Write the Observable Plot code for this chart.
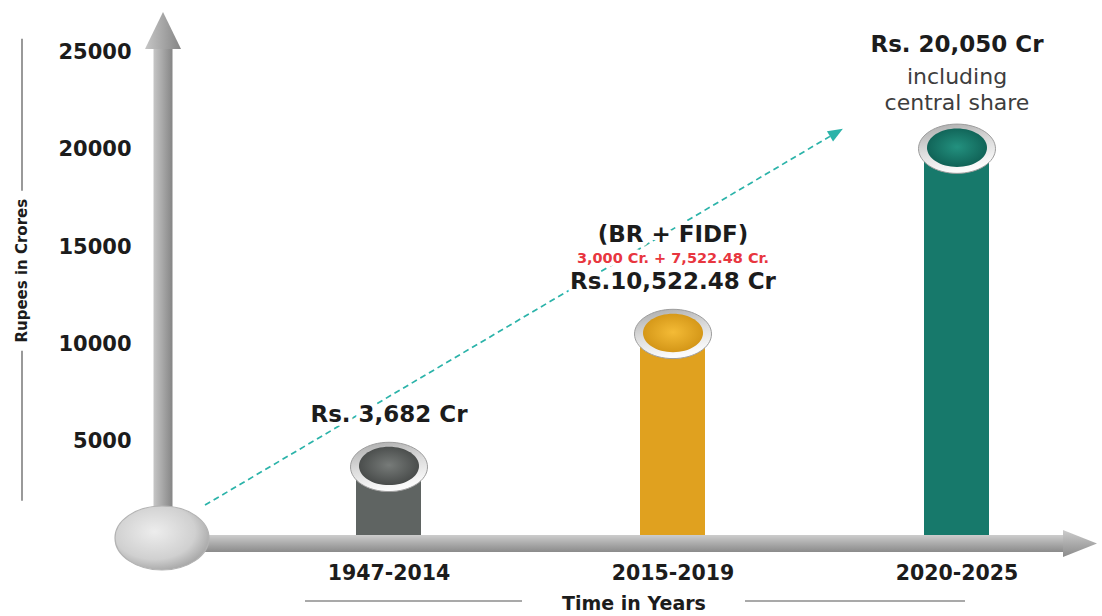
<!DOCTYPE html>
<html>
<head>
<meta charset="utf-8">
<script src="https://cdn.jsdelivr.net/npm/d3@7"></script>
<script src="https://cdn.jsdelivr.net/npm/@observablehq/plot@0.6"></script>
<style>
html, body { margin: 0; padding: 0; background: #ffffff; }
#chart { width: 1102px; height: 616px; overflow: hidden; }
</style>
</head>
<body>
<div id="chart"></div>
<script>
// ---------- data ----------
const periods = ["1947-2014", "2015-2019", "2020-2025"];
const values = [3682, 10522.48, 20050];
const amountLabels = ["Rs. 3,682 Cr", "Rs.10,522.48 Cr", "Rs. 20,050 Cr"];
const headerLabels = ["", "(BR + FIDF)", ""];
const breakdownLabels = ["", "3,000 Cr. + 7,522.48 Cr.", ""];
const noteLabels = ["", "", "including\ncentral share"];
const yTicks = [5000, 10000, 15000, 20000, 25000];
const yTitle = "Rupees in Crores";
const xTitle = "Time in Years";

// ---------- styles ----------
const barColors = ["#5f6462", "#e0a11f", "#17796b"];
const capColors = [["#777b79", "#434645"], ["#f4bb36", "#d09214"], ["#23917f", "#0e5d52"]];
const FONT = "'DejaVu Sans', 'Liberation Sans', Arial, sans-serif";
const INK = "#1c1c1c";

const data = periods.map((p, i) => ({
  period: p, value: values[i], amount: amountLabels[i],
  header: headerLabels[i], breakdown: breakdownLabels[i], note: noteLabels[i]
}));

function ellipse(ratio) {
  return {
    draw(ctx, size) {
      const rx = Math.sqrt(size / Math.PI), ry = rx * ratio, k = 0.5523;
      ctx.moveTo(rx, 0);
      ctx.bezierCurveTo(rx, ry * k, rx * k, ry, 0, ry);
      ctx.bezierCurveTo(-rx * k, ry, -rx, ry * k, -rx, 0);
      ctx.bezierCurveTo(-rx, -ry * k, -rx * k, -ry, 0, -ry);
      ctx.bezierCurveTo(rx * k, -ry, rx, -ry * k, rx, 0);
      ctx.closePath();
    }
  };
}

function defsMark() {
  const g = d3.create("svg:g");
  const defs = g.append("defs");
  const lin = (id, x2, y2, stops) => {
    const gr = defs.append("linearGradient").attr("id", id)
      .attr("x1", 0).attr("y1", 0).attr("x2", x2).attr("y2", y2);
    stops.forEach(([o, c]) => gr.append("stop").attr("offset", o).attr("stop-color", c));
  };
  const rad = (id, cx, cy, r, stops) => {
    const gr = defs.append("radialGradient").attr("id", id)
      .attr("cx", cx).attr("cy", cy).attr("r", r);
    stops.forEach(([o, c]) => gr.append("stop").attr("offset", o).attr("stop-color", c));
  };
  lin("yShaftGrad", 1, 0, [[0, "#c6c6c6"], [0.45, "#a9a9a9"], [1, "#858585"]]);
  lin("xShaftGrad", 0, 1, [[0, "#cdcdcd"], [0.5, "#ababab"], [1, "#8b8b8b"]]);
  rad("originGrad", "42%", "40%", "62%", [[0, "#ededed"], [0.7, "#d0d0d0"], [1, "#a8a8a8"]]);
  lin("rimGrad", 0.3, 1, [[0, "#a9a9a9"], [0.55, "#dcdcdc"], [1, "#fbfbfb"]]);
  capColors.forEach(([l, d], i) =>
    rad(`capGrad${i}`, "50%", "48%", "58%", [[0, l], [1, d]]));
  return g.node();
}

function axesMark(index, scales, vals, dims) {
  const y = scales.y;
  const y0 = y(0), yTop = y(yTicks[yTicks.length - 1]);
  const ax = dims.marginLeft + 23;
  const g = d3.create("svg:g");
  g.append("rect").attr("x", ax - 9.5).attr("y", yTop - 6).attr("width", 19)
    .attr("height", y0 - yTop + 6).attr("fill", "url(#yShaftGrad)");
  g.append("path").attr("d", `M${ax},${yTop - 40}L${ax + 18},${yTop - 3}L${ax - 18},${yTop - 3}Z`)
    .attr("fill", "url(#yShaftGrad)");
  const xEnd = dims.width - 38;
  g.append("rect").attr("x", ax).attr("y", y0 - 3).attr("width", xEnd - ax)
    .attr("height", 17).attr("fill", "url(#xShaftGrad)");
  g.append("path").attr("d", `M${dims.width - 5},${y0 + 5.5}L${xEnd - 1},${y0 - 8}L${xEnd - 1},${y0 + 19}Z`)
    .attr("fill", "url(#xShaftGrad)");
  g.append("ellipse").attr("cx", ax - 1).attr("cy", y0).attr("rx", 47).attr("ry", 32)
    .attr("fill", "url(#originGrad)").attr("stroke", "#b3b3b3").attr("stroke-width", 1.2);
  return g.node();
}

function trendMark(index, scales, vals, dims) {
  const x = scales.x, y = scales.y;
  const bw = x.bandwidth ? x.bandwidth() : 0;
  const c = p => x(p) + bw / 2;
  const sx = dims.marginLeft + 65, sy = y(values[0] * 0.46);
  const ex = c(periods[1]) + 0.6 * (c(periods[2]) - c(periods[1]));
  const ey = y(values[2] * 1.05);
  const a = Math.atan2(ey - sy, ex - sx), L = 15, w = 6;
  const bx = ex - L * Math.cos(a), by = ey - L * Math.sin(a);
  const px = -Math.sin(a) * w, py = Math.cos(a) * w;
  const g = d3.create("svg:g");
  g.append("line").attr("x1", sx).attr("y1", sy).attr("x2", bx).attr("y2", by)
    .attr("stroke", "#2bb3a9").attr("stroke-width", 1.7).attr("stroke-dasharray", "6 4");
  g.append("path").attr("d", `M${ex},${ey}L${bx + px},${by + py}L${bx - px},${by - py}Z`)
    .attr("fill", "#2bb3a9");
  return g.node();
}

function titlesMark(index, scales, vals, dims) {
  const y = scales.y;
  const g = d3.create("svg:g").attr("font-family", FONT).attr("fill", INK);
  const tx = 22, tyc = y(13750);
  g.append("line").attr("x1", tx).attr("x2", tx).attr("y1", tyc - 232).attr("y2", tyc - 80)
    .attr("stroke", "#555").attr("stroke-width", 1.2);
  g.append("line").attr("x1", tx).attr("x2", tx).attr("y1", tyc + 80).attr("y2", tyc + 230)
    .attr("stroke", "#555").attr("stroke-width", 1.2);
  g.append("text").attr("transform", `translate(${tx},${tyc}) rotate(-90)`)
    .attr("text-anchor", "middle").attr("dy", "0.36em")
    .attr("font-size", 15).attr("font-weight", "bold").text(yTitle);
  const cx = 634, cy = dims.height - 13;
  g.append("line").attr("x1", cx - 329).attr("x2", cx - 112).attr("y1", cy - 2).attr("y2", cy - 2)
    .attr("stroke", "#555").attr("stroke-width", 1.2);
  g.append("line").attr("x1", cx + 111).attr("x2", cx + 331).attr("y1", cy - 2).attr("y2", cy - 2)
    .attr("stroke", "#555").attr("stroke-width", 1.2);
  g.append("text").attr("x", cx).attr("y", cy).attr("text-anchor", "middle").attr("dy", "0.36em")
    .attr("font-size", 19).attr("font-weight", "bold").text(xTitle);
  return g.node();
}

const halo = { stroke: "white", strokeWidth: 8, paintOrder: "stroke", strokeLinejoin: "round" };

const chart = Plot.plot({
  width: 1102,
  height: 616,
  marginTop: 52,
  marginBottom: 78,
  marginLeft: 140,
  marginRight: 0,
  x: { type: "band", domain: periods, range: [185.1, 1160.5], paddingInner: 0.7715, paddingOuter: 0.6, align: 0.5, axis: null },
  y: { domain: [0, 25000], axis: null },
  color: { domain: periods, range: barColors },
  style: { fontFamily: FONT, background: "#ffffff", color: INK },
  marks: [
    defsMark,
    Plot.barY(data, { x: "period", y: "value", fill: "period" }),
    axesMark,
    trendMark,
    Plot.dot(data, { x: "period", y: "value", r: 38.5, symbol: ellipse(0.64), fill: "url(#rimGrad)", stroke: "#9d9d9d", strokeWidth: 1 }),
    ...data.map((d, i) => Plot.dot([d], { x: "period", y: "value", dy: -1, r: 30, symbol: ellipse(0.64), fill: `url(#capGrad${i})` })),
    Plot.text(data.filter(d => !d.note), { x: "period", y: "value", text: "amount", dy: -52, fontSize: 23, fontWeight: "bold", fill: INK, ...halo }),
    Plot.text(data.filter(d => d.breakdown), { x: "period", y: "value", text: "breakdown", dy: -76, fontSize: 14.5, fontWeight: "bold", fill: "#e8363f", ...halo }),
    Plot.text(data.filter(d => d.header), { x: "period", y: "value", text: "header", dy: -99, fontSize: 23, fontWeight: "bold", fill: INK, ...halo }),
    Plot.text(data.filter(d => d.note), { x: "period", y: "value", text: "amount", dy: -104, fontSize: 23, fontWeight: "bold", fill: INK, ...halo }),
    Plot.text(data.filter(d => d.note), { x: "period", y: "value", text: "note", dy: -60, lineHeight: 1.19, fontSize: 22, fill: "#3d3d3d", ...halo }),
    Plot.axisY(yTicks, { anchor: "left", tickSize: 0, tickPadding: 9, tickFormat: d3.format("d"), fontSize: 21, fontWeight: "bold", fill: INK, label: null }),
    Plot.axisX({ tickSize: 0, tickPadding: 27, fontSize: 20.5, fontWeight: "bold", fill: INK, label: null }),
    titlesMark
  ]
});

document.getElementById("chart").appendChild(chart);
</script>
</body>
</html>
